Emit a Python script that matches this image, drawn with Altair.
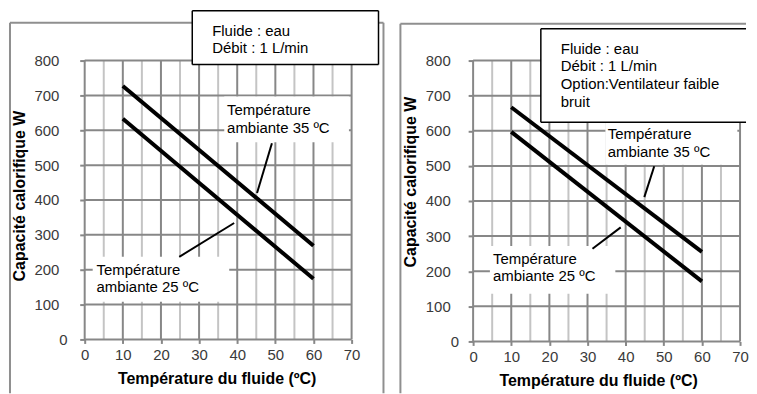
import altair as alt
import pandas as pd

# ---------------- data ----------------
fluid_temp = [10, 60]                 # Température du fluide (ºC)
left_amb35 = [727, 269]               # W, ambiante 35 ºC (left chart)
left_amb25 = [633, 174]               # W, ambiante 25 ºC (left chart)
right_amb35 = [667, 255]              # W, ambiante 35 ºC (right chart, ventilateur faible bruit)
right_amb25 = [597, 171]              # W, ambiante 25 ºC (right chart)

x_tick_values = [0, 10, 20, 30, 40, 50, 60, 70]
x_grid_values = [0, 5, 10, 15, 20, 25, 30, 35, 40, 45, 50, 55, 60, 65, 70]
y_tick_values = [0, 100, 200, 300, 400, 500, 600, 700, 800]

x_title = "Température du fluide (ºC)"
y_title = "Capacité calorifique W"
label_35 = "Température\nambiante 35 ºC"
label_25 = "Température\nambiante 25 ºC"
left_info = "Fluide : eau\nDébit : 1 L/min"
right_info = "Fluide : eau\nDébit : 1 L/min\nOption:Ventilateur faible\nbruit"

# annotation anchors in data units (x = ºC, y = W)
left_label_boxes = {"x": [36.6, 2.1], "x2": [69.3, 37.9], "y": [697, 237], "y2": [566, 108]}
left_label_text = {"x": [37.35, 3.1], "y": [643, 186], "txt": [label_35, label_25]}
left_leaders = {"x": [49.1, 24.8], "x2": [45.2, 39.2], "y": [563, 237], "y2": [420, 334]}

right_label_boxes = {"x": [34.7, 4.4], "x2": [69.3, 37.3], "y": [627, 272], "y2": [503, 136]}
right_label_text = {"x": [35.3, 5.2], "y": [576, 221], "txt": [label_35, label_25]}
right_leaders = {"x": [47.5, 31.3], "x2": [44.9, 38.7], "y": [499, 264], "y2": [411, 325]}

FONT = "Liberation Sans"
W = 268
DARK = "#878787"
LIGHT = "#c4c4c4"
FRAME = "#8f8f8f"


def make_panel(cfg):
    H = cfg["H"]
    xs = alt.Scale(domain=[0, 70], nice=False, zero=False)
    ys = alt.Scale(domain=[0, 800], nice=False, zero=False)
    one = pd.DataFrame({"k": [0]})
    layers = []

    x_axis = alt.Axis(values=x_tick_values, grid=False, domain=False, tickSize=4, tickWidth=2,
                      tickColor=DARK, labelPadding=4, labelFontSize=15, labelColor="#3a3a3a",
                      labelFlush=False, labelOverlap=False, title=None)
    y_axis = alt.Axis(values=y_tick_values, grid=False, domain=False, tickSize=5, tickWidth=2,
                      tickColor=DARK, labelPadding=cfg["ypad"], labelFontSize=15, labelColor="#3a3a3a",
                      labelAlign={"condition": {"test": "datum.value === 0", "value": "left"}, "value": "right"},
                      labelOverlap=False, title=None)

    def X(f):
        return alt.X(f, scale=xs, axis=x_axis)

    def Y(f):
        return alt.Y(f, scale=ys, axis=y_axis)

    if "anchor" in cfg:
        a = cfg["anchor"]
        layers.append(alt.Chart(one).mark_rect(fill="white", opacity=0).encode(
            x=alt.value(a[0]), x2=alt.value(a[1]), y=alt.value(a[2]), y2=alt.value(a[3])))

    for (x1, x2, y1, y2) in cfg["frame"]:
        layers.append(alt.Chart(one).mark_rule(color=FRAME, strokeWidth=2).encode(
            x=alt.value(x1), x2=alt.value(x2), y=alt.value(y1), y2=alt.value(y2)))

    vg = pd.DataFrame({"x": x_grid_values,
                       "kind": ["major" if v % 10 == 0 else "minor" for v in x_grid_values]})
    layers.append(alt.Chart(vg).mark_rule(strokeWidth=2).encode(
        x=X("x:Q"),
        y=alt.value(0), y2=alt.value(H),
        color=alt.Color("kind:N", scale=alt.Scale(domain=["major", "minor"], range=[DARK, LIGHT]), legend=None)))

    hg = pd.DataFrame({"y": y_tick_values})
    layers.append(alt.Chart(hg).mark_rule(strokeWidth=2, color=DARK).encode(
        y=Y("y:Q"), x=alt.value(0), x2=alt.value(W)))

    layers.append(alt.Chart(pd.DataFrame(cfg["boxes"])).mark_rect(fill="white").encode(
        x=X("x:Q"), x2="x2:Q", y=Y("y:Q"), y2="y2:Q"))

    df = pd.DataFrame({"t": fluid_temp * 2, "w": cfg["a35"] + cfg["a25"],
                       "s": ["35"] * 2 + ["25"] * 2})
    layers.append(alt.Chart(df).mark_line(color="black", strokeWidth=4, strokeCap="butt").encode(
        x=X("t:Q"), y=Y("w:Q"), detail="s:N"))

    layers.append(alt.Chart(pd.DataFrame(cfg["leaders"])).mark_rule(color="black", strokeWidth=2).encode(
        x=X("x:Q"), x2="x2:Q", y=Y("y:Q"), y2="y2:Q"))

    layers.append(alt.Chart(pd.DataFrame(cfg["texts"])).mark_text(
        align="left", baseline="alphabetic", fontSize=15, lineBreak="\n", lineHeight=17.5, color="black").encode(
        x=X("x:Q"), y=Y("y:Q"), text="txt:N"))

    ib = cfg["info_box"]
    layers.append(alt.Chart(one).mark_rect(fill="white").encode(
        x=alt.value(ib[0]), x2=alt.value(ib[1]), y=alt.value(ib[2]), y2=alt.value(ib[3])))
    for (x1, x2, y1, y2) in cfg["info_edges"]:
        layers.append(alt.Chart(one).mark_rule(color="black", strokeWidth=1.5).encode(
            x=alt.value(x1), x2=alt.value(x2), y=alt.value(y1), y2=alt.value(y2)))
    layers.append(alt.Chart(pd.DataFrame({"txt": [cfg["info"]]})).mark_text(
        align="left", baseline="alphabetic", fontSize=15, lineBreak="\n", lineHeight=17.8, color="black").encode(
        x=alt.value(cfg["info_xy"][0]), y=alt.value(cfg["info_xy"][1]), text="txt:N"))

    layers.append(alt.Chart(pd.DataFrame({"txt": [y_title]})).mark_text(
        angle=270, align="center", baseline="middle", fontSize=16, fontWeight="bold", color="black").encode(
        x=alt.value(cfg["ytitle"][0]), y=alt.value(cfg["ytitle"][1]), text="txt:N"))
    layers.append(alt.Chart(pd.DataFrame({"txt": [x_title]})).mark_text(
        align="center", baseline="alphabetic", fontSize=16, fontWeight="bold", color="black").encode(
        x=alt.value(cfg["xtitle"][0]), y=alt.value(cfg["xtitle"][1]), text="txt:N"))

    return alt.layer(*layers).properties(width=W, height=H)


left_cfg = {
    "H": 280,
    "anchor": (-77, 300, -52, 320),
    "frame": [(-75, -75, -38, 334), (-75, 300, -38, -38), (300, 300, -38, 334)],
    "ypad": 21,
    "boxes": left_label_boxes, "texts": left_label_text, "leaders": left_leaders,
    "a35": left_amb35, "a25": left_amb25,
    "info_box": (108, 295, -50, 4),
    "info_edges": [(108, 295, -50, -50), (108, 295, 4, 4), (108, 108, -50, 4), (295, 295, -50, 4)],
    "info": left_info, "info_xy": (128, -25),
    "ytitle": (-65, 136), "xtitle": (133, 325),
}

right_cfg = {
    "H": 282,
    "frame": [(-73, -73, -37, 334), (-73, 274, -37, -37)],
    "ypad": 18,
    "boxes": right_label_boxes, "texts": right_label_text, "leaders": right_leaders,
    "a35": right_amb35, "a25": right_amb25,
    "info_box": (68, 274, -32, 62),
    "info_edges": [(68, 274, -32, -32), (68, 274, 62, 62), (68, 68, -32, 62)],
    "info": right_info, "info_xy": (88, -7),
    "ytitle": (-62, 122), "xtitle": (126, 327),
}

chart = alt.hconcat(make_panel(left_cfg), make_panel(right_cfg), spacing=122, bounds="flush").properties(
    padding=0
).configure(font=FONT).configure_view(stroke=None)

chart.save("out.html", embed_options={"renderer": "svg", "actions": False})
